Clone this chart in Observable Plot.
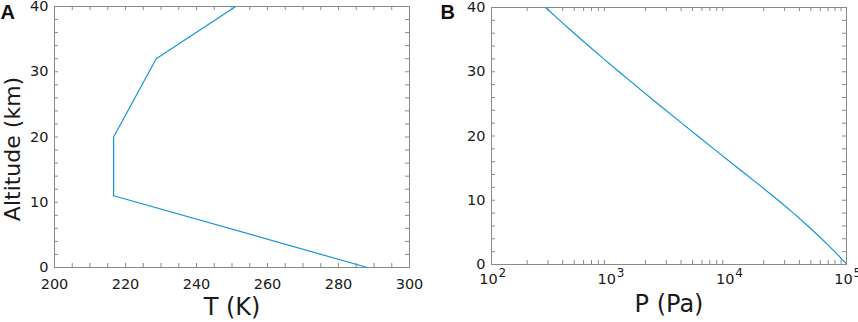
<!DOCTYPE html>
<html>
<head>
<meta charset="utf-8">
<script src="https://cdn.jsdelivr.net/npm/d3@7"></script>
<script src="https://cdn.jsdelivr.net/npm/@observablehq/plot@0.6"></script>
<style>
  body { margin: 0; background: #fff; }
  #wrap { position: relative; width: 858px; height: 322px; font-family: "DejaVu Sans", sans-serif; }
  #a, #b { position: absolute; top: 0; }
  #a { left: 0; }
  #b { left: 430px; }
</style>
</head>
<body>
<div id="wrap"><div id="a"></div><div id="b"></div></div>
<script>
// Panel A: temperature profile
const altitudeT = [0, 11, 20, 32, 40];
const temperature = [288.15, 216.65, 216.65, 228.65, 251.05];

// Panel B: pressure profile
const altitudeP = [0, 2, 4, 6, 8, 10, 11, 12, 14, 16, 18, 20, 22, 24, 26, 28, 30, 32, 34, 36, 38, 40];
const pressure = [101325, 79501, 61660, 47217, 35651, 26499, 22632, 19399, 14170, 10352, 7565, 5529, 4047, 2972, 2188, 1616, 1197, 889, 663, 499, 377, 287];

// Tick values
const tTicks = [200, 220, 240, 260, 280, 300];
const tMinor = [200,205,210,215,220,225,230,235,240,245,250,255,260,265,270,275,280,285,290,295,300];
const altTicks = [0, 10, 20, 30, 40];
const altMinor = [0,2,4,6,8,10,12,14,16,18,20,22,24,26,28,30,32,34,36,38,40];
const pTicks = [1e2, 1e3, 1e4, 1e5];
const pTickBase = ["10", "10", "10", "10"];
const pTickExp = ["2", "3", "4", "5"];
const pMinor = [200,300,400,500,600,700,800,900,2000,3000,4000,5000,6000,7000,8000,9000,20000,30000,40000,50000,60000,70000,80000,90000];

const lineColor = "#1296d4";
const frameColor = "#8a8a8a";
const textColor = "#1a1a1a";
const font = "DejaVu Sans, sans-serif";
const tickLen = 4;

const dataT = altitudeT.map((h, i) => ({h, t: temperature[i]}));
const dataP = altitudeP.map((h, i) => ({h, p: pressure[i]}));
const pLabels = pTicks.map((p, i) => ({p, base: pTickBase[i], exp: pTickExp[i]}));

function frameTicks(xTicks, yTicks, W, H, m) {
  const ih = H - m.top - m.bottom, iw = W - m.left - m.right;
  return [
    Plot.tickX(xTicks, {x: d => d, stroke: frameColor, insetTop: ih - tickLen}),
    Plot.tickX(xTicks, {x: d => d, stroke: frameColor, insetBottom: ih - tickLen}),
    Plot.tickY(yTicks, {y: d => d, stroke: frameColor, insetRight: iw - tickLen}),
    Plot.tickY(yTicks, {y: d => d, stroke: frameColor, insetLeft: iw - tickLen})
  ];
}

// ---- Chart A
{
  const W = 430, H = 322, m = {top: 6, right: 21, bottom: 55, left: 54};
  const chart = Plot.plot({
    width: W, height: H,
    marginTop: m.top, marginRight: m.right, marginBottom: m.bottom, marginLeft: m.left,
    style: {fontFamily: font, fontSize: "14.5px", color: textColor, background: "white", overflow: "visible"},
    x: {domain: [200, 300]},
    y: {domain: [0, 40]},
    marks: [
      ...frameTicks(tMinor, altMinor, W, H, m),
      Plot.frame({stroke: frameColor}),
      Plot.axisX(tTicks, {tickSize: 0, tickPadding: 11, fontSize: 14.5, label: null}),
      Plot.axisY(altTicks, {tickSize: 0, tickPadding: 6, fontSize: 14.5, label: null}),
      Plot.line(dataT, {x: "t", y: "h", stroke: lineColor, strokeWidth: 1.2}),
      Plot.text(["T (K)"], {frameAnchor: "bottom", dy: 47, fontSize: 24, fill: textColor}),
      Plot.text(["Altitude (km)"], {frameAnchor: "left", textAnchor: "middle", lineAnchor: "middle", rotate: -90, dx: -42, dy: 12, fontSize: 22, fill: textColor}),
      Plot.text(["A"], {frameAnchor: "top-left", textAnchor: "start", lineAnchor: "middle", dx: -54, dy: 6, fontSize: 20, fontWeight: "bold", fontFamily: "Liberation Sans, Arial, sans-serif", fill: "#111"})
    ]
  });
  document.getElementById("a").appendChild(chart);
}

// ---- Chart B
{
  const W = 428, H = 322, m = {top: 7, right: 12, bottom: 58, left: 61};
  const chart = Plot.plot({
    width: W, height: H,
    marginTop: m.top, marginRight: m.right, marginBottom: m.bottom, marginLeft: m.left,
    style: {fontFamily: font, fontSize: "14.5px", color: textColor, background: "white", overflow: "visible"},
    x: {type: "log", domain: [1e2, 1e5], axis: null},
    y: {domain: [0, 40]},
    marks: [
      ...frameTicks(pMinor, altMinor, W, H, m),
      Plot.frame({stroke: frameColor}),
      Plot.text(pLabels, {x: "p", text: "base", frameAnchor: "bottom", textAnchor: "middle", dx: -3, dy: 19, fontSize: 14.5, fill: textColor}),
      Plot.text(pLabels, {x: "p", text: "exp", frameAnchor: "bottom", textAnchor: "start", dx: 7, dy: 12, fontSize: 12, fill: textColor}),
      Plot.axisY(altTicks, {tickSize: 0, tickPadding: 6, fontSize: 14.5, label: null}),
      Plot.line(dataP, {x: "p", y: "h", stroke: lineColor, strokeWidth: 1.2, clip: true}),
      Plot.text(["P (Pa)"], {frameAnchor: "bottom", dy: 47, fontSize: 24, fill: textColor}),
      Plot.text(["B"], {frameAnchor: "top-left", textAnchor: "start", lineAnchor: "middle", dx: -51, dy: 5, fontSize: 20, fontWeight: "bold", fontFamily: "Liberation Sans, Arial, sans-serif", fill: "#111"})
    ]
  });
  document.getElementById("b").appendChild(chart);
}
</script>
</body>
</html>
